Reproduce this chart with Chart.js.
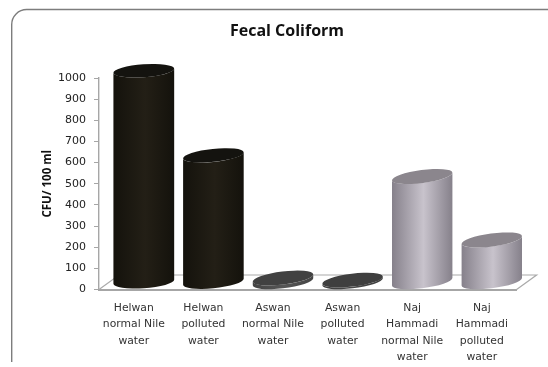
<!DOCTYPE html>
<html>
<head>
<meta charset="utf-8">
<style>
html,body{margin:0;padding:0;background:#fff}
#wrap{width:548px;height:367px;position:relative}
</style>
<script src="https://cdn.jsdelivr.net/npm/chart.js@4"></script>
</head>
<body>
<div id="wrap"><canvas id="c" width="548" height="367"></canvas></div>
<script>
// Fecal coliform counts per sampling site
const categories = [
  ["Helwan", "normal Nile", "water"],
  ["Helwan", "polluted", "water"],
  ["Aswan", "normal Nile", "water"],
  ["Aswan", "polluted", "water"],
  ["Naj", "Hammadi", "normal Nile", "water"],
  ["Naj", "Hammadi", "polluted", "water"]
];
const cfuCounts = [1000, 600, 20, 10, 500, 200];
const yTicks = [0, 100, 200, 300, 400, 500, 600, 700, 800, 900, 1000];

// Cylinder shading per bar: edge, centre, top cap
const edgeColors = ["#14120c", "#14120c", "#444444", "#3e3e3e", "#85808a", "#85808a"];
const midColors  = ["#231f16", "#231f16", "#565656", "#484848", "#c8c3cc", "#c8c3cc"];
const capColors  = ["#14130f", "#14130f", "#414141", "#3f3f3f", "#8b868d", "#8b868d"];
// Ellipse tilt grows toward the right of the perspective view
const tiltDegrees = [-4, -6, -7, -7, -7.5, -7.5];

const DEPTH_X = 20, DEPTH_Y = 14.5;   // receding offset of the 3D floor
const RY = 6.5;

// Rounded frame open on the right and bottom, plus the floor plane
const framePlugin = {
  id: "frame",
  beforeDraw(chart) {
    const ctx = chart.ctx;
    ctx.save();
    ctx.strokeStyle = "#7d7d7d";
    ctx.lineWidth = 1.4;
    ctx.beginPath();
    ctx.moveTo(11.7, 362);
    ctx.lineTo(11.7, 25);
    ctx.arcTo(11.7, 9.5, 27, 9.5, 15);
    ctx.lineTo(548, 9.5);
    ctx.stroke();
    ctx.restore();
  },
  beforeDatasetsDraw(chart) {
    const { ctx, chartArea: a } = chart;
    ctx.save();
    ctx.strokeStyle = "#aaaaaa";
    ctx.lineWidth = 1.2;
    ctx.beginPath();
    ctx.moveTo(a.left, a.bottom);
    ctx.lineTo(a.left + DEPTH_X, a.bottom - DEPTH_Y);
    ctx.lineTo(a.right + DEPTH_X, a.bottom - DEPTH_Y);
    ctx.lineTo(a.right, a.bottom);
    ctx.stroke();
    ctx.restore();
  },
  afterLayout(chart) {
    // centre the title over the plot including its depth
    const t = chart.titleBlock;
    t.left += 10.7;
    t.right += 10.7;
  }
};

// Draws each bar element as a cylinder standing on the floor plane
const cylinderPlugin = {
  id: "cylinders",
  beforeDatasetDraw(chart, args) {
    const ctx = chart.ctx;
    args.meta.data.forEach((bar, i) => {
      const cx = bar.x + DEPTH_X / 2;
      const rx = bar.width / 2;
      const baseY = bar.base - DEPTH_Y / 2;
      const topY = bar.y - DEPTH_Y / 2;
      const tilt = tiltDegrees[i] * Math.PI / 180;
      const t0 = Math.atan(-(RY / rx) * Math.tan(tilt));
      const g = ctx.createLinearGradient(cx - rx, 0, cx + rx, 0);
      g.addColorStop(0, edgeColors[i]);
      g.addColorStop(0.52, midColors[i]);
      g.addColorStop(1, edgeColors[i]);
      ctx.save();
      ctx.fillStyle = g;
      ctx.beginPath();
      ctx.ellipse(cx, baseY, rx, RY, tilt, t0, t0 + Math.PI, false);
      ctx.ellipse(cx, topY, rx, RY, tilt, t0 + Math.PI, t0, true);
      ctx.closePath();
      ctx.fill();
      ctx.fillStyle = capColors[i];
      ctx.beginPath();
      ctx.ellipse(cx, topY, rx, RY, tilt, 0, Math.PI * 2);
      ctx.fill();
      ctx.restore();
    });
    return false;
  }
};

new Chart(document.getElementById("c"), {
  type: "bar",
  plugins: [framePlugin, cylinderPlugin],
  data: {
    labels: categories,
    datasets: [{
      label: "Fecal Coliform",
      data: cfuCounts,
      backgroundColor: capColors,
      categoryPercentage: 0.875,
      barPercentage: 1
    }]
  },
  options: {
    responsive: false,
    animation: false,
    layout: { padding: { left: 36, right: 31.4, top: 0, bottom: 0 } },
    plugins: {
      legend: { display: false },
      tooltip: { enabled: false },
      title: {
        display: true,
        text: "Fecal Coliform",
        color: "#111111",
        font: { family: "'Open Sans'", size: 16, weight: "bold", lineHeight: 1.2 },
        padding: { top: 21.4, bottom: 37.4 }
      }
    },
    scales: {
      x: {
        afterFit(s) { s.height = 77.5; },
        grid: { display: false, drawTicks: false },
        border: { color: "#a6a6a6", width: 2 },
        ticks: {
          color: "#333333",
          font: { family: "'DejaVu Sans'", size: 10.8, lineHeight: 1.53 },
          padding: 10,
          maxRotation: 0,
          autoSkip: false
        }
      },
      y: {
        min: 0,
        max: 1000,
        afterFit(s) { s.width = 63; },
        afterBuildTicks(s) { s.ticks = yTicks.map(v => ({ value: v })); },
        grid: { display: true, drawOnChartArea: false, drawTicks: true, tickLength: 5, color: "#a6a6a6" },
        border: { color: "#a6a6a6", width: 1.4 },
        ticks: {
          color: "#222222",
          font: { family: "'DejaVu Sans'", size: 11 },
          padding: 8,
          callback: v => String(v)
        },
        title: {
          display: true,
          text: "CFU/ 100 ml",
          color: "#111111",
          font: { family: "'Open Sans'", size: 11.5, weight: "bold" },
          padding: { top: 4.5, bottom: 0 }
        }
      }
    }
  }
});
</script>
</body>
</html>
